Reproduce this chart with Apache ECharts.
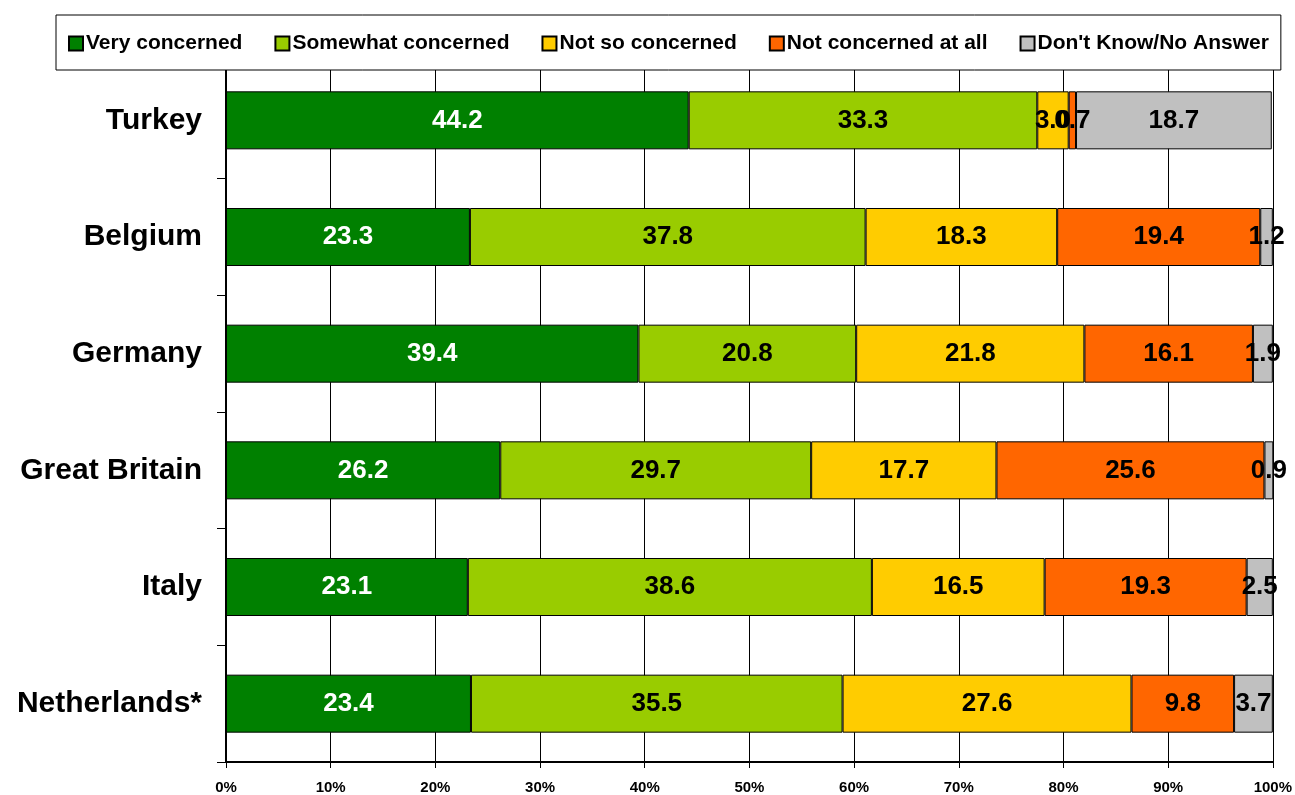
<!DOCTYPE html>
<html>
<head>
<meta charset="utf-8">
<script src="https://cdn.jsdelivr.net/npm/echarts@6/dist/echarts.min.js"></script>
<style>
  html, body { margin: 0; padding: 0; background: #fff; }
  #chart { width: 1295px; height: 795px; }
</style>
</head>
<body>
<div id="chart"></div>
<script>
// Level of concern by country (percent of respondents)
var countries = ['Turkey', 'Belgium', 'Germany', 'Great Britain', 'Italy', 'Netherlands*'];
var seriesNames = ['Very concerned', 'Somewhat concerned', 'Not so concerned', 'Not concerned at all', "Don't Know/No Answer"];
var veryConcerned     = [44.2, 23.3, 39.4, 26.2, 23.1, 23.4];
var somewhatConcerned = [33.3, 37.8, 20.8, 29.7, 38.6, 35.5];
var notSoConcerned    = [3.0, 18.3, 21.8, 17.7, 16.5, 27.6];
var notConcernedAtAll = [0.7, 19.4, 16.1, 25.6, 19.3, 9.8];
var dontKnow          = [18.7, 1.2, 1.9, 0.9, 2.5, 3.7];
var xTickLabels = ['0%', '10%', '20%', '30%', '40%', '50%', '60%', '70%', '80%', '90%', '100%'];

var colors = ['#008000', '#99CC00', '#FFCC00', '#FF6600', '#C0C0C0'];
var labelColors = ['#ffffff', '#000000', '#000000', '#000000', '#000000'];
var values = [veryConcerned, somewhatConcerned, notSoConcerned, notConcernedAtAll, dontKnow];
var FONT = '"Liberation Sans", Arial, sans-serif';

var series = seriesNames.map(function (name, i) {
  return {
    name: name,
    type: 'bar',
    stack: 'total',
    data: values[i],
    barWidth: 58,
    itemStyle: { color: colors[i], borderColor: '#000', borderWidth: 1 },
    label: {
      show: true,
      position: 'inside',
      color: labelColors[i],
      fontFamily: FONT,
      fontWeight: 'bold',
      fontSize: 26,
      formatter: function (p) { return p.value.toFixed(1); }
    }
  };
});

var chart = echarts.init(document.getElementById('chart'));
chart.setOption({
  animation: false,
  backgroundColor: '#fff',
  legend: {
    left: 56,
    top: 15,
    padding: [18, 12, 16, 12],
    itemGap: 32,
    itemWidth: 14,
    itemHeight: 14,
    icon: 'rect',
    backgroundColor: '#fff',
    borderColor: '#000',
    borderWidth: 1,
    textStyle: { fontFamily: FONT, fontWeight: 'bold', fontSize: 21, color: '#000', padding: [0, 0, 0, -2] },
    data: seriesNames
  },
  grid: { left: 226, right: 21, top: 62, bottom: 31, containLabel: false },
  xAxis: {
    type: 'value',
    min: 0,
    max: 100,
    interval: 10,
    axisLine: { show: true, lineStyle: { color: '#000', width: 2 } },
    axisTick: { show: true, length: 6, lineStyle: { color: '#000' } },
    splitLine: { show: true, lineStyle: { color: '#000', width: 1 } },
    axisLabel: {
      margin: 18,
      fontFamily: FONT,
      fontWeight: 'bold',
      fontSize: 15,
      color: '#000',
      formatter: function (v) { return xTickLabels[Math.round(v / 10)]; }
    }
  },
  yAxis: {
    type: 'category',
    inverse: true,
    data: countries,
    axisLine: { show: true, lineStyle: { color: '#000', width: 2 } },
    axisTick: { show: true, length: 9, lineStyle: { color: '#000' } },
    axisLabel: {
      margin: 24,
      fontFamily: FONT,
      fontWeight: 'bold',
      fontSize: 30,
      color: '#000'
    }
  },
  series: series
});
</script>
</body>
</html>
